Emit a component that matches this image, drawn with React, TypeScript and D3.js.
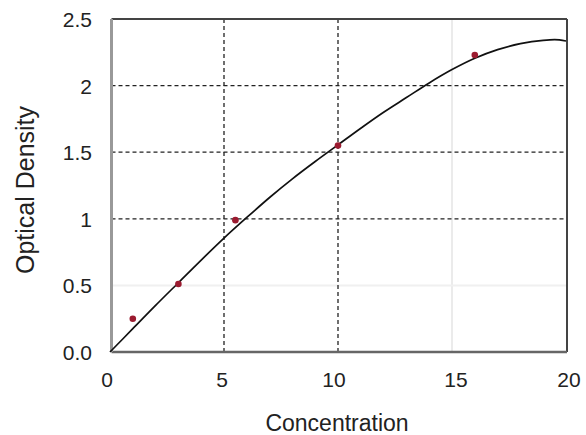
import React from "react";
import * as d3 from "d3";

const pointX = [1, 3, 5.5, 10, 16];
const pointY = [0.25, 0.51, 0.99, 1.55, 2.23];

const curveX = [0, 1, 2, 3, 4, 5, 6, 7, 8, 9, 10, 11, 12, 13, 14, 15, 16, 17, 18, 19, 19.5, 20];
const curveY = [0, 0.175, 0.35, 0.52, 0.69, 0.855, 1.01, 1.16, 1.3, 1.43, 1.555, 1.68, 1.8, 1.91, 2.02, 2.12, 2.205, 2.27, 2.315, 2.34, 2.345, 2.335];

const xTicks = [0, 5, 10, 15, 20];
const xTickLabels = ["0", "5", "10", "15", "20"];
const yTicks = [0, 0.5, 1, 1.5, 2, 2.5];
const yTickLabels = ["0.0", "0.5", "1", "1.5", "2", "2.5"];
const darkGridX = [5, 10];
const darkGridY = [1, 1.5, 2];
const lightGridX = [15];
const lightGridY = [0.5];

export default function App() {
  const W = 586, H = 435;
  const L = 111.5, R = 567, T = 19, B = 352;
  const x = d3.scaleLinear().domain([0, 20]).range([110, 566]);
  const y = d3.scaleLinear().domain([0, 2.5]).range([B, T]);
  const line = d3
    .line<number>()
    .x((_, i) => x(curveX[i]))
    .y((d) => y(d))
    .curve(d3.curveMonotoneX);
  const font = "'Liberation Sans', Arial, sans-serif";
  return (
    <svg width={W} height={H} style={{ position: "absolute", left: 0, top: 0, background: "#fff" }} fontFamily={font}>
      <rect x={0} y={0} width={W} height={H} fill="#fff" />
      {lightGridX.map((v) => (
        <line key={"lx" + v} x1={x(v)} x2={x(v)} y1={T} y2={B} stroke="#ebebeb" strokeWidth={2} />
      ))}
      {lightGridY.map((v) => (
        <line key={"ly" + v} x1={L} x2={R} y1={y(v)} y2={y(v)} stroke="#f0f0f0" strokeWidth={2} />
      ))}
      {darkGridX.map((v) => (
        <line key={"dx" + v} x1={x(v)} x2={x(v)} y1={T} y2={B} stroke="#222" strokeWidth={1.3} strokeDasharray="4,3" />
      ))}
      {darkGridY.map((v) => (
        <line key={"dy" + v} x1={L} x2={R} y1={y(v)} y2={y(v)} stroke="#222" strokeWidth={1.3} strokeDasharray="4,3" />
      ))}
      <line x1={L} x2={R} y1={T} y2={T} stroke="#444" strokeWidth={2} />
      <line x1={R} x2={R} y1={T} y2={B} stroke="#444" strokeWidth={2} />
      <line x1={L} x2={R} y1={B} y2={B} stroke="#666" strokeWidth={2.5} />
      <line x1={L} x2={L} y1={T} y2={B} stroke="#999" strokeWidth={3} />
      <path d={line(curveY) || ""} fill="none" stroke="#111" strokeWidth={1.7} />
      {pointX.map((v, i) => (
        <circle key={"p" + i} cx={x(v)} cy={y(pointY[i])} r={3.3} fill="#9b1b30" />
      ))}
      {yTicks.map((v, i) => (
        <text key={"yt" + v} x={92} y={y(v) + 8} textAnchor="end" fontSize={21} fill="#222">
          {yTickLabels[i]}
        </text>
      ))}
      {xTicks.map((v, i) => (
        <text key={"xt" + v} x={x(v) + (v === 0 ? -3 : v === 10 ? -4 : v === 15 ? 4 : v === 20 ? 3 : -2)} y={387} textAnchor="middle" fontSize={21} fill="#222">
          {xTickLabels[i]}
        </text>
      ))}
      <text x={337} y={431} textAnchor="middle" fontSize={23} fill="#222">
        Concentration
      </text>
      <text transform={`translate(34, 190) rotate(-90)`} textAnchor="middle" fontSize={25} fill="#222">
        Optical Density
      </text>
    </svg>
  );
}
